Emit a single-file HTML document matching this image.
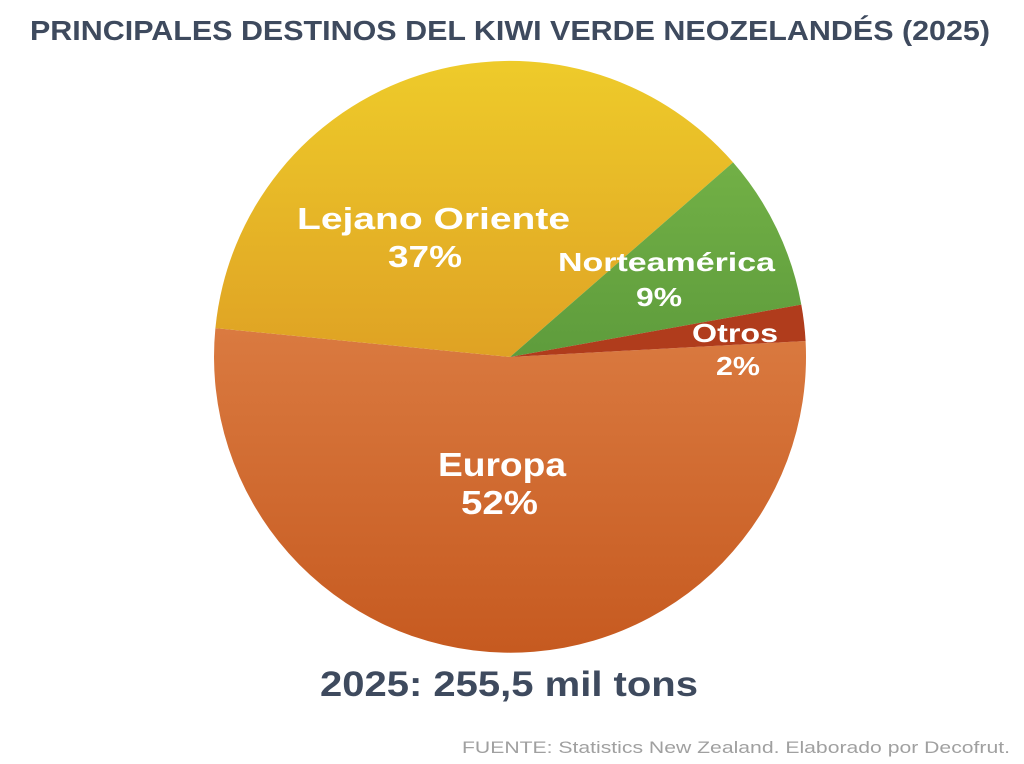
<!DOCTYPE html>
<html><head><meta charset="utf-8"><style>
html,body{margin:0;padding:0;background:#fff;}
svg{display:block;}
</style></head><body>
<svg width="1024" height="764" viewBox="0 0 1024 764" xmlns="http://www.w3.org/2000/svg">
<defs>
<linearGradient id="eu" x1="0" y1="0" x2="0" y2="1"><stop offset="0" stop-color="#da7a40"/><stop offset="1" stop-color="#c65a20"/></linearGradient>
<linearGradient id="le" x1="0" y1="0" x2="0" y2="1"><stop offset="0" stop-color="#eecb2a"/><stop offset="1" stop-color="#dfa224"/></linearGradient>
<linearGradient id="no" x1="0" y1="0" x2="0" y2="1"><stop offset="0" stop-color="#72b046"/><stop offset="1" stop-color="#5e9c3c"/></linearGradient>
</defs>
<text x="510" y="40" text-anchor="middle" font-family="Liberation Sans, sans-serif" font-weight="bold" font-size="28" fill="#3e4a5e" textLength="960" lengthAdjust="spacingAndGlyphs">PRINCIPALES DESTINOS DEL KIWI VERDE NEOZELANDÉS (2025)</text>
<path d="M510 357 L805.6 341 A296 296 0 1 1 215.4 328.1 Z" fill="url(#eu)"/>
<path d="M510 357 L215.4 328.1 A296 296 0 0 1 733.1 162.4 Z" fill="url(#le)"/>
<path d="M510 357 L733.1 162.4 A296 296 0 0 1 801.3 304.6 Z" fill="url(#no)"/>
<path d="M510 357 L801.3 304.6 A296 296 0 0 1 805.6 341 Z" fill="#b03c1c"/>
<g font-family="Liberation Sans, sans-serif" font-weight="bold" fill="#fff" lengthAdjust="spacingAndGlyphs">
<text x="297" y="229" font-size="31" textLength="273" lengthAdjust="spacingAndGlyphs">Lejano Oriente</text>
<text x="388" y="267" font-size="31" textLength="74" lengthAdjust="spacingAndGlyphs">37%</text>
<text x="558" y="271" font-size="26" textLength="217" lengthAdjust="spacingAndGlyphs">Norteamérica</text>
<text x="636" y="306" font-size="26" textLength="46" lengthAdjust="spacingAndGlyphs">9%</text>
<text x="692" y="342" font-size="26" textLength="86" lengthAdjust="spacingAndGlyphs">Otros</text>
<text x="716" y="375" font-size="26" textLength="44" lengthAdjust="spacingAndGlyphs">2%</text>
<text x="438" y="476" font-size="33" textLength="128" lengthAdjust="spacingAndGlyphs">Europa</text>
<text x="461" y="514" font-size="33" textLength="77" lengthAdjust="spacingAndGlyphs">52%</text>
</g>
<text x="320" y="696" font-family="Liberation Sans, sans-serif" font-weight="bold" font-size="35" fill="#3e4a5e" textLength="378" lengthAdjust="spacingAndGlyphs">2025: 255,5 mil tons</text>
<text x="462" y="753" font-family="Liberation Sans, sans-serif" font-size="17" fill="#a0a0a0" textLength="548" lengthAdjust="spacingAndGlyphs">FUENTE: Statistics New Zealand. Elaborado por Decofrut.</text>
</svg>
</body></html>
